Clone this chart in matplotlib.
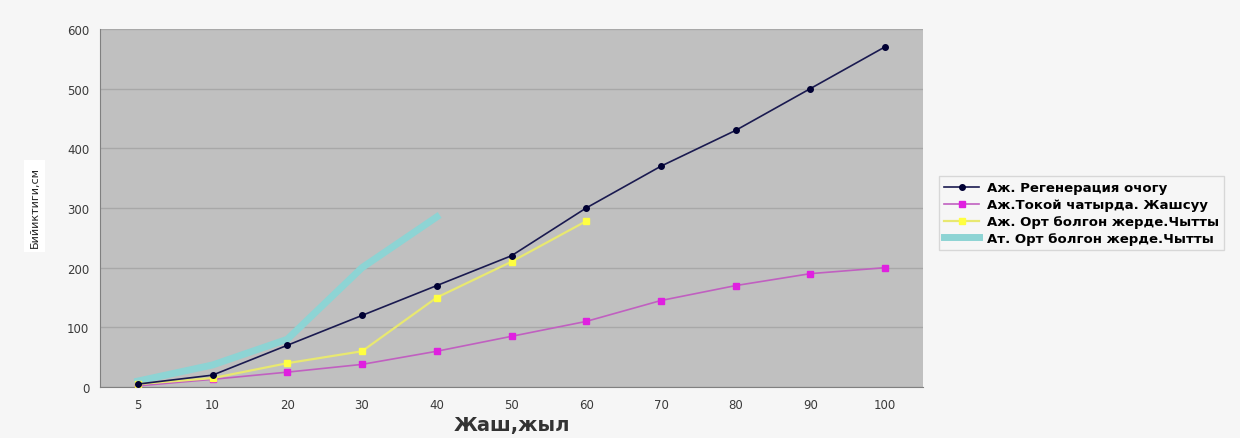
import matplotlib.pyplot as plt
import numpy as np

# данные
ages = ['5', '10', '20', '30', '40', '50', '60', '70', '80', '90', '100']
regen = [5, 20, 70, 120, 170, 220, 300, 370, 430, 500, 570]
tokoi = [2, 13, 25, 38, 60, 85, 110, 145, 170, 190, 200]
ort_azh = [5, 15, 40, 60, 150, 210, 278]
ort_at = [10, 37, 80, 200, 285]

labels = ['Аж. Регенерация очогу',
          'Аж.Токой чатырда. Жашсуу',
          'Аж. Орт болгон жерде.Чытты',
          'Ат. Орт болгон жерде.Чытты']

plt.rcParams['font.family'] = ['DejaVu Sans']

fig = plt.figure(figsize=(12.4, 4.39), dpi=100, facecolor='#f6f6f6')
ax = fig.add_axes([0.081, 0.116, 0.663, 0.816])
ax.set_facecolor('#c0c0c0')

x = np.arange(len(ages))

l1, = ax.plot(x, regen, color='#1a1a50', lw=1.2, marker='o', ms=4,
              mfc='#000033', mec='#000033', zorder=4)
l2, = ax.plot(x, tokoi, color='#c060c0', lw=1.2, marker='s', ms=5,
              mfc='#e020e0', mec='#e020e0', zorder=3)
l3, = ax.plot(x[:len(ort_azh)], ort_azh, color='#e8e870', lw=1.6, marker='s', ms=5,
              mfc='#ffff40', mec='#ffff40', zorder=3)
l4, = ax.plot(x[:len(ort_at)], ort_at, color='#8dd4d4', lw=5, zorder=2)

ax.set_xlim(-0.5, len(ages) - 0.5)
ax.set_ylim(0, 600)
ax.set_xticks(x)
ax.set_xticklabels(ages)
ax.set_yticks(range(0, 601, 100))
ax.tick_params(axis='both', labelsize=8.5, colors='#3a3a3a', length=0, pad=8)
ax.yaxis.grid(True, color='#a8a8a8', lw=1)
ax.set_axisbelow(True)
for side in ['top', 'right']:
    ax.spines[side].set_visible(False)
for side in ['left', 'bottom']:
    ax.spines[side].set_color('#808080')

ax.set_xlabel('Жаш,жыл', fontsize=14, fontweight='bold', color='#333333', labelpad=3)
fig.text(0.028, 0.528, 'Бийиктиги,см', rotation=90, fontsize=8, color='#222222',
         ha='center', va='center',
         bbox=dict(facecolor='white', edgecolor='none', pad=4))

fig.legend([l1, l2, l3, l4], labels, loc='upper left',
           bbox_to_anchor=(0.752, 0.612),
           frameon=True, edgecolor='#d0d0d0', facecolor='#f6f6f6', fancybox=False,
           handlelength=2.6, labelspacing=0.3, borderpad=0.4, handletextpad=0.6,
           prop=dict(family='DejaVu Sans', weight='bold', size=9.5))

fig.savefig('out.png', dpi=100, facecolor=fig.get_facecolor())
